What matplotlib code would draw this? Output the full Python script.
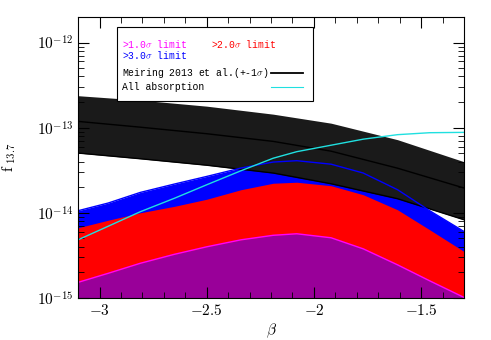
import numpy as np
import matplotlib.pyplot as plt
from matplotlib.patches import Rectangle
from matplotlib.ticker import FixedLocator, NullFormatter

plt.rcParams['mathtext.fontset'] = 'cm'
plt.rcParams['font.family'] = 'DejaVu Serif'

# beta grid
beta = [-3.10, -2.96, -2.81, -2.65, -2.50, -2.34, -2.19, -2.08, -1.92, -1.77, -1.61, -1.46, -1.30]

# log10(f_13.7) of each limit curve
blue_top = [-13.976, -13.886, -13.761, -13.662, -13.573, -13.474, -13.404, -13.388,
            -13.429, -13.533, -13.729, -13.976, -14.22]
red_top = [-14.176, -14.088, -14.0, -13.924, -13.841, -13.729, -13.653, -13.641,
           -13.682, -13.788, -13.965, -14.2, -14.455]
mag_top = [-14.818, -14.712, -14.594, -14.488, -14.4, -14.318, -14.265, -14.247,
           -14.294, -14.424, -14.612, -14.8, -14.995]
cyan = [-14.318, -14.159, -13.988, -13.829, -13.671, -13.506, -13.359, -13.282,
        -13.206, -13.135, -13.082, -13.059, -13.055]

# Meiring 2013 band
beta_m = [-3.10, -2.81, -2.50, -2.19, -1.92, -1.61, -1.30]
meir_hi = [-12.624, -12.676, -12.747, -12.841, -12.947, -13.141, -13.4]
meir_mid = [-12.926, -12.994, -13.071, -13.161, -13.276, -13.476, -13.709]
meir_lo = [-13.298, -13.365, -13.441, -13.533, -13.659, -13.835, -14.082]

xticks = [-3, -2.5, -2, -1.5]
xtick_labels = [r'$-3$', r'$-2.5$', r'$-2$', r'$-1.5$']
yticks = [1e-15, 1e-14, 1e-13, 1e-12]
ytick_labels = [r'$10^{-15}$', r'$10^{-14}$', r'$10^{-13}$', r'$10^{-12}$']


def p(v):
    return 10.0 ** np.array(v)


fig = plt.figure(figsize=(4.91, 3.40), dpi=100)
ax = fig.add_axes([0.159, 0.124, 0.786, 0.826])

floor = 1e-16
ax.fill_between(beta, floor, p(blue_top), color='#0000ff', lw=0)
ax.fill_between(beta, floor, p(red_top), color='#ff0000', lw=0)
ax.fill_between(beta, floor, p(mag_top), color='#990099', lw=0)
ax.fill_between(beta_m, p(meir_lo), p(meir_hi), color='#1a1a1a', lw=0)
ax.plot(beta_m, p(meir_lo), color='black', lw=1)
ax.plot(beta_m, p(meir_mid), color='black', lw=1)
ax.plot(beta, p(blue_top), color='#0000ff', lw=1)
ax.plot(beta, p(mag_top), color='#ff00ff', lw=1)
ax.plot(beta, p(cyan), color='#20e0e0', lw=1)

ax.set_yscale('log')
ax.set_xlim(-3.1, -1.3)
ax.set_ylim(1e-15, 2e-12)
ax.set_xticks(xticks, xtick_labels)
ax.set_xticks(np.arange(-3.1, -1.29, 0.1), minor=True)
ax.set_yticks(yticks, ytick_labels)
ax.yaxis.set_minor_locator(FixedLocator(
    [m * 10.0 ** e for e in (-15, -14, -13, -12) for m in range(2, 10) if m * 10.0 ** e <= 2e-12]))
ax.yaxis.set_minor_formatter(NullFormatter())
ax.tick_params(which='both', direction='in', top=True, right=True, labelsize=11)
ax.tick_params(which='major', length=8)
ax.tick_params(which='minor', length=4)

ax.set_xlabel(r'$\beta$', fontsize=11)
ax.xaxis.set_label_coords(0.5, -0.085)
ax.set_ylabel(r'$\mathrm{f}_{\ 13.7}$', fontsize=11)
ax.yaxis.set_label_coords(-0.155, 0.5)

# legend box drawn by hand
ax.add_patch(Rectangle((0.101, 0.701), 0.508, 0.263, transform=ax.transAxes,
                       facecolor='white', edgecolor='black', lw=0.8, zorder=5))
kw = dict(transform=ax.transAxes, fontsize=7, family='Liberation Mono', va='center', zorder=6)
ax.text(0.114, 0.904, r'>1.0$\sigma$ limit', color='#ff00ff', **kw)
ax.text(0.345, 0.904, r'>2.0$\sigma$ limit', color='#ff0000', **kw)
ax.text(0.114, 0.866, r'>3.0$\sigma$ limit', color='#0000ff', **kw)
ax.text(0.114, 0.801, r'Meiring 2013 et al.(+-1$\sigma$)', color='black', **kw)
ax.text(0.114, 0.751, 'All absorption', color='black', **kw)
ax.plot([0.5, 0.583], [0.801, 0.801], color='black', lw=1.3, transform=ax.transAxes, zorder=6)
ax.plot([0.5, 0.583], [0.751, 0.751], color='#20e0e0', lw=0.8, transform=ax.transAxes, zorder=6)

plt.savefig('out.png', dpi=100)
